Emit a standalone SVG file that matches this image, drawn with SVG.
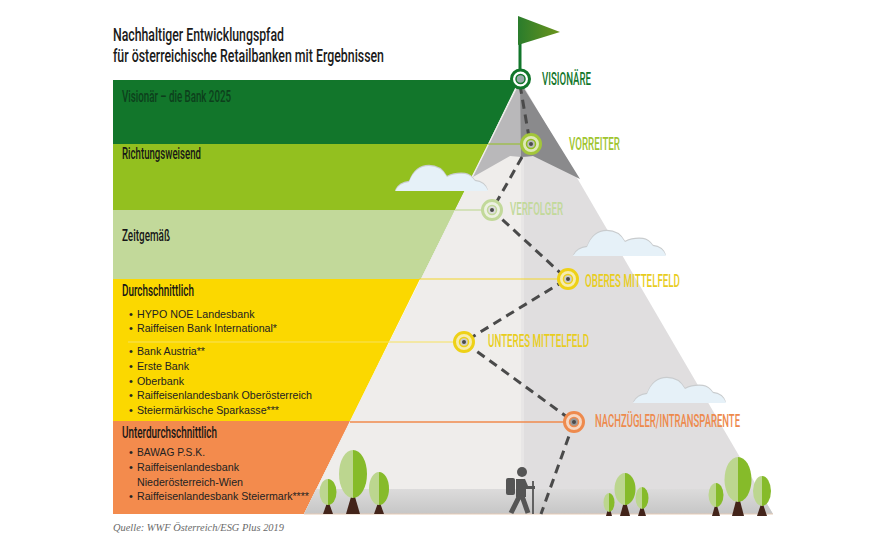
<svg xmlns="http://www.w3.org/2000/svg" xmlns:xlink="http://www.w3.org/1999/xlink" width="886" height="540" viewBox="0 0 886 540">
<style>
.cond{font-family:"Roboto","Liberation Sans",sans-serif;font-weight:500}
.title{font-size:19px;fill:#1a1a1a}
.band{font-size:16px;fill:#161616}
.lab{font-size:18px}
.b{font-family:"Liberation Sans",Arial,sans-serif;font-size:11px;fill:#222}
.ring{stroke-width:3}
.dot{fill:#4a4a4a}
.tr{fill:#43241a}
.tl{fill:#bcd68f}
.td{fill:#86bb2a}
</style>
<defs>
<linearGradient id="flag" x1="0" x2="1" y1="0" y2="0"><stop offset="0" stop-color="#2a7c2c"/><stop offset="1" stop-color="#6c941c"/></linearGradient>
<linearGradient id="ground" x1="0" x2="0" y1="0" y2="1"><stop offset="0" stop-color="#dcdbdb"/><stop offset="1" stop-color="#c6c6c6"/></linearGradient>
<path id="cloud" d="M0 25Q4 17 14 16Q20 0 34 0Q46 0 52 11Q60 7 70 8Q76 9 80 15Q90 16 93 25Z"/>
<g id="cl"><use xlink:href="#cloud" href="#cloud" fill="#c9ccce" transform="translate(0 -1.2)"/><use xlink:href="#cloud" href="#cloud" fill="#e6f1f8"/></g>
</defs>
<rect width="886" height="540" fill="#fff"/>

<g id="bands">
<polygon points="113,80 519,80 488,144 113,144" fill="#12762b"/>
<polygon points="113,144 488,144 455,210 113,210" fill="#93c01f"/>
<polygon points="113,210 455,210 421,279 113,279" fill="#c2d99a"/>
<polygon points="113,279 420,279 350,421 113,421" fill="#fbd800"/>
<polygon points="113,421 350,421 304,514 113,514" fill="#f38b4d"/>
</g>

<g id="mountain">
<polygon points="520,80 773,514 304,514" fill="#e0dedf"/>
<polygon points="520,80 521,80 521,514 304,514" fill="#efedeb"/>
<rect x="521" y="157" width="3" height="357" fill="#e8e6e6"/>
<polygon points="520,82 533,156 521,157 510,156 473,177" fill="#b9b8ba"/>
<polygon points="520,82 580,179 533,156 521,157" fill="#8a8a8c"/>
<polygon points="316,489 758,489 773,514 304,514" fill="url(#ground)"/>
<line x1="304" y1="514" x2="773" y2="514" stroke="#e6cbb6" stroke-width="1"/>
</g>

<use id="cloud1" xlink:href="#cl" href="#cl" x="395" y="166"/>
<use id="cloud2" xlink:href="#cl" href="#cl" x="573" y="231"/>
<use id="cloud3" xlink:href="#cl" href="#cl" x="633" y="378"/>

<g id="trees">
<g><polygon class="tr" points="328,500 323,514 333,514"/><path class="tl" d="M328 479A8.500 13 0 0 0 328 505Z"/><path class="td" d="M328 479A8.500 13 0 0 1 328 505Z"/></g>
<g><polygon class="tr" points="353,490 346,514 360,514"/><path class="tl" d="M353 450A14 24 0 0 0 353 498Z"/><path class="td" d="M353 450A14 24 0 0 1 353 498Z"/></g>
<g><polygon class="tr" points="379,500 374,514 384,514"/><path class="tl" d="M379 472A10 16.500 0 0 0 379 505Z"/><path class="td" d="M379 472A10 16.500 0 0 1 379 505Z"/></g>
<g><polygon class="tr" points="609,505 606,516 612,516"/><path class="tl" d="M609 493A5.500 9.500 0 0 0 609 512Z"/><path class="td" d="M609 493A5.500 9.500 0 0 1 609 512Z"/></g>
<g><polygon class="tr" points="625,498 620,516 630,516"/><path class="tl" d="M625 473A10.500 16 0 0 0 625 505Z"/><path class="td" d="M625 473A10.500 16 0 0 1 625 505Z"/></g>
<g><polygon class="tr" points="642,503 638,516 646,516"/><path class="tl" d="M642 487A6.500 11 0 0 0 642 509Z"/><path class="td" d="M642 487A6.500 11 0 0 1 642 509Z"/></g>
<g><polygon class="tr" points="716,502 712,516 720,516"/><path class="tl" d="M716 483A7.500 12 0 0 0 716 507Z"/><path class="td" d="M716 483A7.500 12 0 0 1 716 507Z"/></g>
<g><polygon class="tr" points="738,493 732,516 744,516"/><path class="tl" d="M738 457A13.500 22.500 0 0 0 738 502Z"/><path class="td" d="M738 457A13.500 22.500 0 0 1 738 502Z"/></g>
<g><polygon class="tr" points="762,501 757,516 767,516"/><path class="tl" d="M762 476A9 15 0 0 0 762 506Z"/><path class="td" d="M762 476A9 15 0 0 1 762 506Z"/></g>
</g>

<g id="hiker" fill="#555" stroke="#555">
<circle cx="522" cy="472" r="5" stroke="none"/>
<rect x="506" y="478" width="9" height="17" rx="2" stroke="none"/>
<path d="M516 479L525 479L528 486L535 486L535 489L526 489L526 497L520 497L516 497Z" stroke="none"/>
<path d="M520 495L511 513M522 496L528 513" fill="none" stroke-width="5"/>
<line x1="533" y1="481" x2="533" y2="514" stroke-width="1.800"/>
</g>

<g id="connectors" fill="none">
<path d="M520 85L530 143L492 210L567 279L464 342L574 422L541 514" stroke="#4a4a4a" stroke-width="3" stroke-dasharray="9 6"/>
<line x1="488" y1="144" x2="522" y2="144" stroke="#93c01f" stroke-width="1.200"/>
<line x1="455" y1="210" x2="483" y2="210" stroke="#c2d99a" stroke-width="1.200"/>
<line x1="419" y1="279" x2="558" y2="279" stroke="#f3d62a" stroke-width="1.200"/>
<line x1="128" y1="342" x2="455" y2="342" stroke="#f7e25e" stroke-width="1"/>
<line x1="350" y1="422" x2="565" y2="422" stroke="#f08a4c" stroke-width="1.500"/>
<line x1="520" y1="32" x2="520" y2="72" stroke="#12762b" stroke-width="3"/>
</g>

<polygon id="flag-shape" points="518,16 560,32 518,45" fill="url(#flag)"/>

<g id="node-visionaere">
<circle cx="520.500" cy="79" r="9" fill="#fff" stroke="#12762b" stroke-width="3"/><circle cx="520.500" cy="79" r="4.500" fill="#9aa" stroke="#12762b" stroke-width="1.500"/>
<text class="cond lab" x="542" y="85" fill="#12762b" textLength="49" lengthAdjust="spacingAndGlyphs">VISIONÄRE</text>
</g>
<g id="node-vorreiter">
<circle cx="531" cy="144" r="9.500" fill="#dfe8b8" stroke="#a3c63a" stroke-width="3"/><circle cx="531" cy="144" r="4.500" fill="#bbb" stroke="#93c01f" stroke-width="1.500"/><circle class="dot" cx="531" cy="144" r="2"/>
<text class="cond lab" x="569" y="150" fill="#a0c52f" textLength="51" lengthAdjust="spacingAndGlyphs">VORREITER</text>
</g>
<g id="node-verfolger">
<circle cx="492" cy="210" r="9.500" fill="#edf1e2" stroke="#c2d99a" stroke-width="3"/><circle cx="492" cy="210" r="4.500" fill="#ddd" stroke="#c2d99a" stroke-width="1.500"/><circle class="dot" cx="492" cy="210" r="2"/>
<text class="cond lab" x="510" y="215" fill="#c2d99a" textLength="53" lengthAdjust="spacingAndGlyphs">VERFOLGER</text>
</g>
<g id="node-oberes">
<circle cx="568" cy="279" r="9.500" fill="#f6ecae" stroke="#eed117" stroke-width="3"/><circle cx="568" cy="279" r="4.500" fill="#ccc" stroke="#eed117" stroke-width="1.500"/><circle class="dot" cx="568" cy="279" r="2"/>
<text class="cond lab" x="585" y="287" fill="#e8cd1e" textLength="95" lengthAdjust="spacingAndGlyphs">OBERES MITTELFELD</text>
</g>
<g id="node-unteres">
<circle cx="464" cy="342" r="9.500" fill="#f6ecae" stroke="#eed117" stroke-width="3"/><circle cx="464" cy="342" r="4.500" fill="#ccc" stroke="#eed117" stroke-width="1.500"/><circle class="dot" cx="464" cy="342" r="2"/>
<text class="cond lab" x="488" y="347" fill="#e8cd1e" textLength="101" lengthAdjust="spacingAndGlyphs">UNTERES MITTELFELD</text>
</g>
<g id="node-nachzuegler">
<circle cx="574" cy="422" r="9.500" fill="#f6d7c2" stroke="#ee8a4d" stroke-width="3"/><circle cx="574" cy="422" r="4.500" fill="#999" stroke="#ee8a4d" stroke-width="1.500"/><circle class="dot" cx="574" cy="422" r="2"/>
<text class="cond lab" x="595" y="427" fill="#ee8a4d" textLength="145" lengthAdjust="spacingAndGlyphs">NACHZÜGLER/INTRANSPARENTE</text>
</g>

<g id="title">
<text class="cond title" x="113" y="41" textLength="171" lengthAdjust="spacingAndGlyphs">Nachhaltiger Entwicklungspfad</text>
<text class="cond title" x="113" y="62" textLength="271" lengthAdjust="spacingAndGlyphs">für österreichische Retailbanken mit Ergebnissen</text>
</g>

<g id="band-labels">
<text class="cond band" x="122" y="102" style="fill:#0d3f1c" textLength="109" lengthAdjust="spacingAndGlyphs">Visionär – die Bank 2025</text>
<text class="cond band" x="122" y="159" textLength="79" lengthAdjust="spacingAndGlyphs">Richtungsweisend</text>
<text class="cond band" x="122" y="241" textLength="48" lengthAdjust="spacingAndGlyphs">Zeitgemäß</text>
<text class="cond band" x="122" y="296" textLength="72" lengthAdjust="spacingAndGlyphs">Durchschnittlich</text>
<text class="cond band" x="122" y="438" textLength="95" lengthAdjust="spacingAndGlyphs">Unterdurchschnittlich</text>
</g>

<g id="bank-lists">
<text class="b" x="129" y="318">•</text><text class="b" x="137" y="318" textLength="117.500" lengthAdjust="spacingAndGlyphs">HYPO NOE Landesbank</text>
<text class="b" x="129" y="332">•</text><text class="b" x="137" y="332" textLength="140" lengthAdjust="spacingAndGlyphs">Raiffeisen Bank International*</text>
<text class="b" x="129" y="355">•</text><text class="b" x="137" y="355" textLength="68" lengthAdjust="spacingAndGlyphs">Bank Austria**</text>
<text class="b" x="129" y="370">•</text><text class="b" x="137" y="370" textLength="52" lengthAdjust="spacingAndGlyphs">Erste Bank</text>
<text class="b" x="129" y="385">•</text><text class="b" x="137" y="385" textLength="47" lengthAdjust="spacingAndGlyphs">Oberbank</text>
<text class="b" x="129" y="399">•</text><text class="b" x="137" y="399" textLength="175" lengthAdjust="spacingAndGlyphs">Raiffeisenlandesbank Oberösterreich</text>
<text class="b" x="129" y="414">•</text><text class="b" x="137" y="414" textLength="142" lengthAdjust="spacingAndGlyphs">Steiermärkische Sparkasse***</text>
<text class="b" x="129" y="456">•</text><text class="b" x="137" y="456" textLength="68" lengthAdjust="spacingAndGlyphs">BAWAG P.S.K.</text>
<text class="b" x="129" y="471">•</text><text class="b" x="137" y="471" textLength="102" lengthAdjust="spacingAndGlyphs">Raiffeisenlandesbank</text>
<text class="b" x="137" y="486" textLength="106" lengthAdjust="spacingAndGlyphs">Niederösterreich-Wien</text>
<text class="b" x="129" y="500">•</text><text class="b" x="137" y="500" textLength="172" lengthAdjust="spacingAndGlyphs">Raiffeisenlandesbank Steiermark****</text>
</g>

<text id="source" x="113" y="531" font-family="'Liberation Serif',serif" font-style="italic" font-size="11" fill="#6a6a6a" textLength="171" lengthAdjust="spacingAndGlyphs">Quelle: WWF Österreich/ESG Plus 2019</text>
</svg>
